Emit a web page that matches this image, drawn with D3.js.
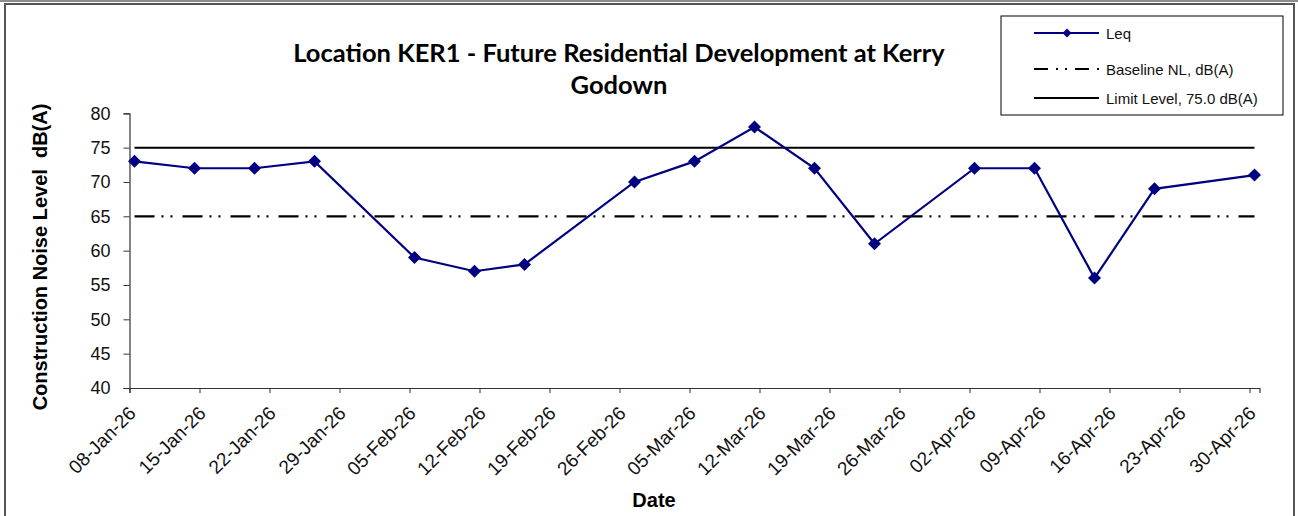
<!DOCTYPE html>
<html>
<head>
<meta charset="utf-8">
<script src="https://cdn.jsdelivr.net/npm/d3@7"></script>
<style>
  body { margin: 0; background: #fff; }
  svg text { font-family: "Liberation Sans", Arial, sans-serif; }
</style>
</head>
<body>
<svg id="chart" width="1298" height="516"></svg>
<script>
// ── Data ──────────────────────────────────
const dates    = ['2026-01-08','2026-01-14','2026-01-20','2026-01-26','2026-02-05','2026-02-11',
                  '2026-02-16','2026-02-27','2026-03-05','2026-03-11','2026-03-17','2026-03-23',
                  '2026-04-02','2026-04-08','2026-04-14','2026-04-20','2026-04-30'];
const leq      = [73, 72, 72, 73, 59, 57, 58, 70, 73, 78, 72, 61, 72, 72, 56, 69, 71];
const baseline = 65;
const limit    = 75;
const yTicks   = [40, 45, 50, 55, 60, 65, 70, 75, 80];
const titleLines = ['Location KER1 - Future Residential Development at Kerry', 'Godown'];
const legendItems = ['Leq', 'Baseline NL, dB(A)', 'Limit Level, 75.0 dB(A)'];

const parse = d3.utcParse('%Y-%m-%d');
const fmt   = d3.utcFormat('%d-%b-%y');
const NAVY  = '#000080';
const DASH  = '20 7 2 7 2 10';

// points sit mid-day on a date axis
const rows = dates.map((d, i) => ({ t: d3.utcHour.offset(parse(d), 12), v: leq[i] }));

const svg = d3.select('#chart');

// ── Frame ─────────────────────────────────
svg.append('line').attr('x1', 0).attr('x2', 1298).attr('y1', 1).attr('y2', 1)
  .attr('stroke', '#666').attr('stroke-width', 1.5);
svg.append('rect').attr('x', 5).attr('y', 4).attr('width', 1289).attr('height', 520)
  .attr('fill', 'none').attr('stroke', '#555').attr('stroke-width', 2);

// ── Scales ────────────────────────────────
const x0 = parse('2026-01-08'), x1 = parse('2026-05-01');
const x = d3.scaleUtc().domain([x0, x1]).range([129.5, 1259.5]);
const y = d3.scaleLinear().domain([40, 80]).range([388, 113.3]);

// ── Axes ──────────────────────────────────
const weekTicks = d3.utcDay.range(x0, x1, 7);

const gx = svg.append('g').attr('transform', 'translate(0,388)')
  .call(d3.axisBottom(x).tickValues(weekTicks).tickSize(5).tickFormat(''));
gx.select('.domain').attr('stroke', '#333').attr('stroke-width', 1.2);
gx.selectAll('.tick line').attr('stroke', '#333');

svg.append('g').selectAll('text').data(weekTicks).join('text')
  .attr('transform', d => `translate(${x(d) + 4},${411}) rotate(-45)`)
  .attr('text-anchor', 'end')
  .attr('dominant-baseline', 'middle')
  .attr('font-size', 19)
  .attr('fill', '#111')
  .text(d => fmt(d));

const gy = svg.append('g').attr('transform', 'translate(129.5,0)')
  .call(d3.axisLeft(y).tickValues(yTicks).tickSize(6).tickPadding(13));
gy.select('.domain').attr('stroke', '#333').attr('stroke-width', 1.2);
gy.selectAll('.tick line').attr('stroke', '#333');
gy.selectAll('.tick text').attr('font-size', 18).attr('fill', '#111')
  .style('font-family', '"Liberation Sans", Arial, sans-serif');

// ── Axis titles ───────────────────────────
svg.append('text')
  .attr('x', 654).attr('y', 507).attr('text-anchor', 'middle')
  .attr('font-size', 20).attr('font-weight', 'bold').text('Date');

svg.append('text')
  .attr('transform', 'translate(47,257) rotate(-90)')
  .attr('text-anchor', 'middle')
  .attr('font-size', 20).attr('font-weight', 'bold')
  .style('white-space', 'pre')
  .text('Construction Noise Level  dB(A)');

// ── Title ─────────────────────────────────
svg.append('g').selectAll('text').data(titleLines).join('text')
  .attr('x', 619).attr('y', (d, i) => 62 + i * 32)
  .attr('text-anchor', 'middle')
  .attr('font-size', 25.5).attr('font-weight', 'bold')
  .style('font-family', 'Lato, "Open Sans", sans-serif')
  .text(d => d);

// ── Reference lines ───────────────────────
const tFirst = rows[0].t, tLast = rows[rows.length - 1].t;
svg.append('line')
  .attr('x1', x(tFirst)).attr('x2', x(tLast))
  .attr('y1', y(limit)).attr('y2', y(limit))
  .attr('stroke', '#000').attr('stroke-width', 2);
svg.append('line')
  .attr('x1', x(tFirst)).attr('x2', x(tLast))
  .attr('y1', y(baseline)).attr('y2', y(baseline))
  .attr('stroke', '#000').attr('stroke-width', 2.2)
  .attr('stroke-dasharray', DASH);

// ── Leq series ────────────────────────────
const line = d3.line().x(d => x(d.t)).y(d => y(d.v));
svg.append('path').datum(rows)
  .attr('d', line).attr('fill', 'none')
  .attr('stroke', NAVY).attr('stroke-width', 2.2);

const diamond = r => `M0,${-r} L${r},0 L0,${r} L${-r},0 Z`;
svg.append('g').selectAll('path').data(rows).join('path')
  .attr('transform', d => `translate(${x(d.t)},${y(d.v)})`)
  .attr('d', diamond(6.5))
  .attr('fill', NAVY);

// ── Legend ────────────────────────────────
const lg = svg.append('g').attr('transform', 'translate(1001,16)');
lg.append('rect').attr('width', 282).attr('height', 99)
  .attr('fill', '#fff').attr('stroke', '#000').attr('stroke-width', 1);
const ly = [17, 53, 82];
legendItems.forEach((label, i) => {
  const row = lg.append('g').attr('transform', `translate(0,${ly[i]})`);
  const ln = row.append('line').attr('x1', 33).attr('x2', 98).attr('y1', 0).attr('y2', 0)
    .attr('stroke', i === 0 ? NAVY : '#000').attr('stroke-width', 2);
  if (i === 1) ln.attr('stroke-dasharray', '14 8 2 7 2 8');
  if (i === 0) row.append('path').attr('transform', 'translate(66,0)').attr('d', diamond(4.5)).attr('fill', NAVY);
  row.append('text').attr('x', 105).attr('y', 0).attr('dominant-baseline', 'central')
    .attr('font-size', 15).attr('fill', '#111').text(label);
});
</script>
</body>
</html>
